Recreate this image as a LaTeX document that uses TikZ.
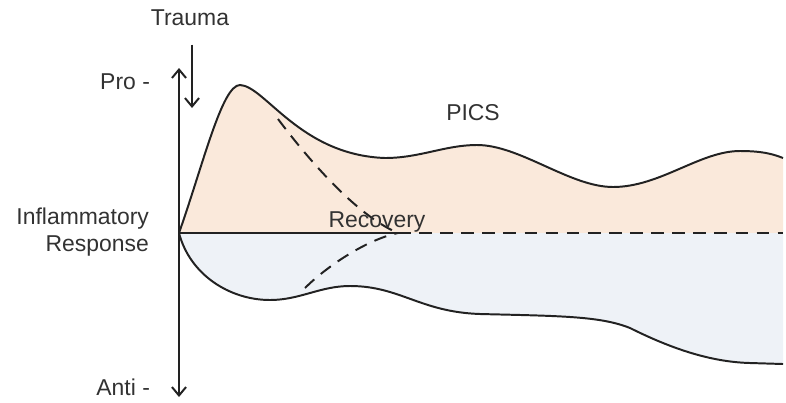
\documentclass[tikz,border=0pt]{standalone}
\usepackage{fontspec}
\setmainfont{Liberation Sans}
\usetikzlibrary{arrows.meta, positioning, calc}
\definecolor{proFill}{RGB}{250,233,219}
\definecolor{antiFill}{RGB}{238,242,247}
\definecolor{inkLine}{RGB}{34,34,34}
\definecolor{inkText}{RGB}{50,50,50}

\begin{document}
\begin{tikzpicture}[
    x=0.025cm, y=-0.025cm,
    curve/.style={draw=inkLine, line width=1.4pt},
    axis/.style={draw=inkLine, line width=1.4pt},
    dashline/.style={draw=inkLine, line width=1.4pt, dash pattern=on 9pt off 6pt},
    tip/.style={-{Straight Barb[length=6pt, width=10pt]}},
    lbl/.style={font=\fontsize{16.3}{19.5}\selectfont, text=inkText, inner sep=2pt}
  ]
    \useasboundingbox (0,0) rectangle (786,402);
    \newcommand{\procurve}{(179,233) .. controls (203,165) and (222,85) .. (240,85)
      .. controls (265,86) and (300,155) .. (385,158)
      .. controls (420,158) and (445,145) .. (477,145)
      .. controls (520,145) and (570,187) .. (613,187)
      .. controls (660,187) and (700,151) .. (740,151)
      .. controls (765,151) and (775,155) .. (783,158)}
    \newcommand{\anticurve}{(179,233) .. controls (190,275) and (230,300) .. (270,300)
      .. controls (300,300) and (320,286) .. (350,286)
      .. controls (400,286) and (420,312) .. (480,314)
      .. controls (560,316) and (600,316) .. (630,328)
      .. controls (670,348) and (710,362) .. (750,363)
      -- (783,364)}

    % Filled regions
    \fill[proFill] \procurve -- (783,233) -- cycle;
    \fill[antiFill] \anticurve -- (783,233) -- cycle;
    \path[curve] \procurve;
    \path[curve] \anticurve;

    % Key points
    \coordinate (origin) at (179,233);
    \coordinate (rec) at (398,233);
    \coordinate (tail) at (783,233);
    \coordinate (proTop) at (179,68);
    \coordinate (antiEnd) at (179,397);
    \coordinate (split) at (278,119);
    \coordinate (dip) at (305,288);
    \coordinate (hit) at (192,108);

    % Axes
    \draw[axis, tip] (origin) -- (proTop);
    \draw[axis, tip] (origin) -- (antiEnd);
    \draw[axis] (origin) -- (rec);
    \draw[dashline] (rec) -- (tail);

    % Recovery paths
    \draw[dashline] (split) .. controls (305,155) and (355,215) .. (rec);
    \draw[dashline] (dip) .. controls (325,268) and (365,240) .. (rec);

    % Labels
    \node[lbl] (trauma) at (190,18) {Trauma};
    \draw[axis, tip, shorten <=11pt] (trauma.south -| hit) -- (hit);
    \node[lbl, anchor=east] (pro) at (153,82) {Pro -};
    \node[lbl, anchor=east] (anti) at (153,387) {Anti -};
    \node[lbl, anchor=east, align=right] (resp) at (152,232) {Inflammatory\\Response};
    \node[lbl] (recovery) at (377,222) {Recovery};
    \node[lbl] (pics) at (473,113) {PICS};
  \end{tikzpicture}
\end{document}
